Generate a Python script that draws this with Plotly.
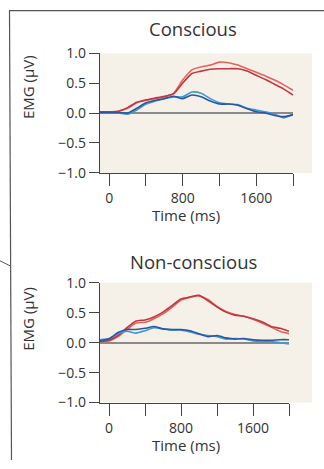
import plotly.graph_objects as go

W, H = 324, 469
# measured mapping of the photographed page: y_picture = OY + SY * y_figure
OY, SY = 9.8, 0.961

time_ms = [-100, 0, 100, 200, 300, 400, 500, 600, 700, 800, 900, 1000,
           1100, 1200, 1300, 1400, 1500, 1600, 1700, 1800, 1900, 2000]

# Conscious panel
c_red_light = [0.02, 0.02, 0.03, 0.08, 0.17, 0.21, 0.24, 0.27, 0.33, 0.55, 0.72, 0.77,
               0.80, 0.85, 0.84, 0.80, 0.74, 0.68, 0.62, 0.55, 0.47, 0.38]
c_red_dark = [0.02, 0.02, 0.03, 0.09, 0.18, 0.22, 0.25, 0.28, 0.32, 0.50, 0.66, 0.70,
              0.73, 0.74, 0.74, 0.74, 0.70, 0.63, 0.56, 0.48, 0.40, 0.30]
c_blue_light = [0.00, 0.00, 0.00, -0.02, 0.05, 0.15, 0.20, 0.24, 0.27, 0.27, 0.35, 0.33,
                0.24, 0.17, 0.15, 0.14, 0.08, 0.05, 0.02, -0.02, -0.08, -0.02]
c_blue_dark = [0.01, 0.01, 0.01, 0.00, 0.08, 0.17, 0.21, 0.24, 0.28, 0.24, 0.30, 0.27,
               0.20, 0.15, 0.15, 0.13, 0.07, 0.02, 0.00, -0.04, -0.06, -0.03]

# Non-conscious panel
n_red_light = [0.02, 0.03, 0.10, 0.22, 0.33, 0.34, 0.40, 0.48, 0.59, 0.71, 0.76, 0.78,
               0.72, 0.60, 0.52, 0.47, 0.44, 0.39, 0.33, 0.26, 0.19, 0.15]
n_red_dark = [0.02, 0.04, 0.12, 0.25, 0.36, 0.38, 0.43, 0.51, 0.62, 0.73, 0.76, 0.79,
              0.70, 0.60, 0.51, 0.46, 0.44, 0.40, 0.35, 0.27, 0.24, 0.19]
n_blue_light = [0.05, 0.07, 0.15, 0.19, 0.16, 0.20, 0.25, 0.23, 0.21, 0.21, 0.18, 0.14,
                0.12, 0.10, 0.06, 0.07, 0.06, 0.03, 0.02, 0.02, 0.00, -0.02]
n_blue_dark = [0.03, 0.06, 0.17, 0.22, 0.22, 0.24, 0.27, 0.23, 0.22, 0.22, 0.20, 0.15,
               0.10, 0.12, 0.08, 0.06, 0.07, 0.05, 0.04, 0.04, 0.05, 0.05]

panel_titles = ["Conscious", "Non-conscious"]
x_tickvals = [0, 400, 800, 1200, 1600, 2000]
x_ticktext = ["0", "", "800", "", "1600", ""]
y_tickvals = [-1, -0.5, 0, 0.5, 1]
y_ticktext = ["\u22121.0", "\u22120.5", "0.0", "0.5", "1.0"]

RED_L, RED_D = "#e8625c", "#c3363f"
BLUE_L, BLUE_D = "#3d98d4", "#2a56a3"
FONT = "Open Sans"
TXT = "#333333"
AX = "#444444"

fig = go.Figure()

panels = [
    ("x", "y", [c_red_light, c_red_dark, c_blue_light, c_blue_dark]),
    ("x2", "y2", [n_red_light, n_red_dark, n_blue_light, n_blue_dark]),
]
colors = [RED_L, RED_D, BLUE_L, BLUE_D]
for xa, ya, series in panels:
    for vals, col in zip(series, colors):
        fig.add_trace(go.Scatter(x=time_ms, y=vals, xaxis=xa, yaxis=ya, mode="lines",
                                 line=dict(color=col, width=1.6, shape="spline", smoothing=0.6),
                                 showlegend=False, hoverinfo="skip"))

# convert target picture pixel coords to paper fractions
def px2x(p):
    return p / W

def px2y(p):
    yf = (p - OY) / SY
    return (H - yf) / H

# target pixel geometry of panels: (left, right, top, bottom)
geo = [(100, 293, 53, 173), (100, 289, 283, 403)]
title_y = [28, 262]
emg_y = [87, 319]
time_y = [215, 445]

axis_common = dict(showgrid=False, showline=True, linecolor=AX, linewidth=1.3,
                   ticks="outside", tickcolor=AX, tickwidth=1.3,
                   tickfont=dict(family=FONT, size=14, color=TXT))

layout = dict(width=W, height=H, margin=dict(l=0, r=0, t=0, b=0),
              paper_bgcolor="white", plot_bgcolor="rgba(0,0,0,0)",
              font=dict(family=FONT, color=TXT))
shapes = []
annotations = []
for i, (l, r, t, b) in enumerate(geo):
    sfx = "" if i == 0 else "2"
    layout["xaxis" + sfx] = dict(axis_common, domain=[px2x(l), px2x(r)], range=[-100, 2000],
                                 tickvals=x_tickvals, ticktext=x_ticktext, ticklen=12,
                                 ticklabelstandoff=0,
                                 zeroline=False, anchor="y" + sfx)
    layout["yaxis" + sfx] = dict(axis_common, domain=[px2y(b), px2y(t)], range=[-1, 1],
                                 tickvals=y_tickvals, ticktext=y_ticktext, ticklen=10,
                                 ticklabelstandoff=0,
                                 zeroline=True, zerolinecolor="#8a8a8a", zerolinewidth=2,
                                 anchor="x" + sfx)
    # beige plot background
    shapes.append(dict(type="rect", xref="paper", yref="paper", layer="below",
                       x0=px2x(l), x1=px2x(312), y0=px2y(b), y1=px2y(t),
                       fillcolor="#f5f1e8", line=dict(width=0)))
    annotations.append(dict(text=panel_titles[i], xref="paper", yref="paper",
                            x=px2x(193), y=px2y(title_y[i]), xanchor="center", yanchor="middle",
                            showarrow=False, font=dict(family=FONT, size=18.5, color=TXT)))
    annotations.append(dict(text="EMG (\u00b5V)", xref="paper", yref="paper",
                            x=px2x(28), y=px2y(emg_y[i]), xanchor="center", yanchor="middle",
                            textangle=-90, showarrow=False,
                            font=dict(family=FONT, size=15, color=TXT)))
    annotations.append(dict(text="Time (ms)", xref="paper", yref="paper",
                            x=px2x(186), y=px2y(time_y[i]), xanchor="center", yanchor="middle",
                            showarrow=False, font=dict(family=FONT, size=15, color=TXT)))

# outer frame (top and left edges) and small stroke on the left
frame = "#555555"
shapes.append(dict(type="line", xref="paper", yref="paper", x0=px2x(9), x1=1,
                   y0=px2y(10.5), y1=px2y(10.5), line=dict(color=frame, width=1.2)))
shapes.append(dict(type="line", xref="paper", yref="paper", x0=px2x(9.5), x1=px2x(11.5),
                   y0=px2y(10.5), y1=0, line=dict(color=frame, width=1.2)))
shapes.append(dict(type="line", xref="paper", yref="paper", x0=0, x1=px2x(10),
                   y0=px2y(261), y1=px2y(266), line=dict(color=frame, width=1)))

layout["shapes"] = shapes
layout["annotations"] = annotations
fig.update_layout(**layout)
fig.write_html("out.html", config={"responsive": False, "displayModeBar": False})
